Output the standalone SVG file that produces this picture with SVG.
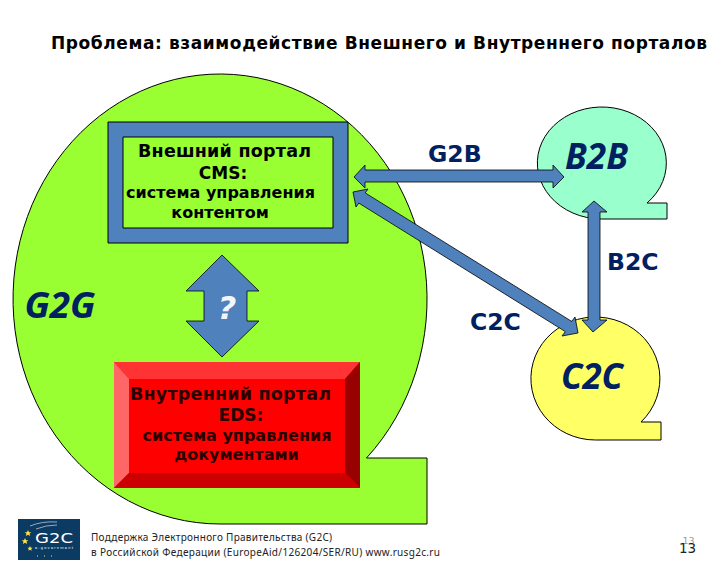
<svg xmlns="http://www.w3.org/2000/svg" width="720" height="569" viewBox="0 0 720 569">
<style>
.o{stroke:#000;stroke-width:1}
.a{fill:#4f81bd;stroke:#000;stroke-width:.8}
text{font-family:"DejaVu Sans","Liberation Sans",sans-serif}
.t{font-weight:bold;fill:#000;text-anchor:middle}
.e{font-weight:bold;fill:#2a0000;text-anchor:middle}
.n{font-weight:bold;fill:#002060;font-size:23.500px}
.i{font-family:"Noto Sans","DejaVu Sans",sans-serif;font-weight:bold;font-style:italic;fill:#002060;font-size:35px}
.f{font-family:"Noto Sans","DejaVu Sans",sans-serif;font-size:10px;fill:#222}
</style>
<rect width="720" height="569" fill="#fff"/>
<text id="title" x="51" y="48.500" font-size="17" textLength="656" fill="#000" font-weight="bold">Проблема: взаимодействие Внешнего и Внутреннего порталов</text>
<g id="g2g">
<path class="o" fill="#99ff33" d="M220 524A207 225 0 1 1 366.500 458H427V524Z"/>
<text class="i" x="24.500" y="318" textLength="71" lengthAdjust="spacingAndGlyphs">G2G</text>
</g>
<g id="b2b">
<path class="o" fill="#99ffcc" d="M601.500 219A64.500 56 0 1 1 647 203H667V219Z"/>
<text class="i" x="565" y="169" textLength="63" lengthAdjust="spacingAndGlyphs">B2B</text>
</g>
<g id="c2c">
<path class="o" fill="#ffff66" d="M595.500 440A64.500 61.500 0 1 1 641 422H661V440Z"/>
<text class="i" x="561" y="389" textLength="62" lengthAdjust="spacingAndGlyphs">C2C</text>
</g>
<g id="cms">
<path class="o" fill="#4f81bd" fill-rule="evenodd" d="M108 122H348V243H108ZM123 137V228H333V137Z"/>
<text class="t" font-size="17.500" x="224.500" y="157" textLength="173">Внешний портал</text>
<text class="t" font-size="17" x="223" y="179">CMS:</text>
<text class="t" font-size="16" x="220.500" y="198" textLength="189">система управления</text>
<text class="t" font-size="16" x="220" y="218">контентом</text>
</g>
<g id="eds">
<rect x="114" y="362" width="246" height="126" fill="#ff0000"/>
<path fill="#ff3333" d="M114 362H360L345 379H129Z"/>
<path fill="#ff6666" d="M114 362L129 379V473L114 488Z"/>
<path fill="#990000" d="M360 362L345 379V473L360 488Z"/>
<path fill="#cc0000" d="M114 488L129 473H345L360 488Z"/>
<text class="e" font-size="17.500" x="230.500" y="400" textLength="201">Внутренний портал</text>
<text class="e" font-size="17" x="241" y="421">EDS:</text>
<text class="e" font-size="16" x="237" y="441" textLength="189">система управления</text>
<text class="e" font-size="16" x="236.500" y="460">документами</text>
</g>
<g id="connectors">
<path class="a" d="M222 255L259 291H247V321H259L222 357L186 321H204V291H186Z"/>
<path class="a" d="M354 177L365 165V170H553V165L564 177L553 188V182H365V188Z"/>
<path class="a" d="M353 192L368 189L365.200 192.900L571.700 321.400L575 317L578 333L562 336L565.300 331.600L358.800 203.100L356 207Z"/>
<path class="a" d="M594 201L607 212H600V320H607L593 332L582 320H588V212H582Z"/>
</g>
<text x="227" y="319" font-size="32" font-weight="bold" font-style="italic" fill="#f2f6fb" text-anchor="middle" font-family="Noto Sans">?</text>
<g id="labels">
<text class="n" x="428" y="162">G2B</text>
<text class="n" x="607" y="270">B2C</text>
<text class="n" x="470" y="330">C2C</text>
</g>
<g id="logo">
<rect x="18" y="519" width="62" height="41" fill="#0b3a63"/>
<text x="35" y="543" font-size="14" fill="#fff" textLength="38" lengthAdjust="spacingAndGlyphs" font-family="Liberation Sans">G2C</text>
<text x="35" y="549" font-size="3.500" fill="#fff" textLength="38" font-family="Liberation Sans">e-government</text>
<path d="M30 526Q42 521 57 522M36 529Q46 525 57 525" fill="none" stroke="#b9c6d6" stroke-width=".8"/>
<path fill="#ffe24a" d="M28 530l1 2.200h2.300l-1.800 1.500.7 2.300-2.200-1.300-2.200 1.300.7-2.300-1.800-1.500h2.300ZM25 538l1 2.200h2.300l-1.800 1.500.7 2.300-2.200-1.300-2.200 1.300.7-2.300-1.800-1.500h2.300ZM30 546l.8 1.700h1.800l-1.400 1.200.5 1.800-1.700-1-1.700 1 .5-1.800-1.400-1.200h1.800Z"/>
<path stroke="#ffe24a" stroke-width="1" stroke-dasharray="1 6" d="M37 556H55"/>
</g>
<g id="footer">
<text class="f" x="91" y="541" textLength="241">Поддержка Электронного Правительства (G2C)</text>
<text class="f" x="91" y="556" textLength="349">в Российской Федерации (EuropeAid/126204/SER/RU) www.rusg2c.ru</text>
</g>
<text x="688.500" y="544" font-size="9.500" fill="#999" text-anchor="middle">13</text>
<text x="687.500" y="553" font-size="13.500" fill="#222" text-anchor="middle">13</text>
</svg>
